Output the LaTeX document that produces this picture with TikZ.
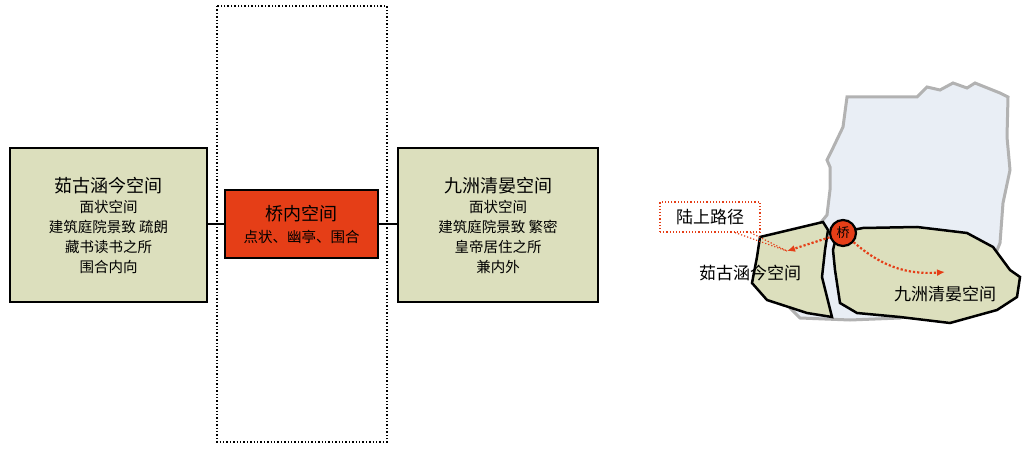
\documentclass[tikz,border=0pt]{standalone}
\usepackage{fontspec}
\newfontfamily\cjk{Noto Sans CJK SC}
\definecolor{land}{HTML}{DCDFBD}
\definecolor{rd}{HTML}{E53E17}
\definecolor{water}{HTML}{E9EEF5}
\begin{document}
\begin{tikzpicture}[x=1pt,y=-1pt,font=\cjk,
  box/.style={draw,line width=2pt,fill=land,align=center,inner sep=0pt},
  arr/.style={rd,line width=2.2pt,dotted,-{Latex[length=8pt,width=7pt]}}]
\usetikzlibrary{arrows.meta}
\useasboundingbox (0,0) rectangle (1031,449);
\draw[dotted,line width=1.4pt] (217,6) rectangle (387,442);
\node[box,minimum width=197pt,minimum height=154pt,font=\cjk\fontsize{14.5}{20}\selectfont] (a) at (108.5,225) {{\fontsize{18}{24}\selectfont 茹古涵今空间}\\面状空间\\建筑庭院景致 疏朗\\藏书读书之所\\围合内向};
\node[box,fill=rd,minimum width=153pt,minimum height=68pt,font=\cjk\fontsize{14.5}{20}\selectfont] (b) at (301.5,224) {{\fontsize{18}{24}\selectfont 桥内空间}\\[2pt]点状、幽亭、围合};
\node[box,minimum width=200pt,minimum height=154pt,font=\cjk\fontsize{14.5}{20}\selectfont] (c) at (498,225) {{\fontsize{18}{24}\selectfont 九洲清晏空间}\\面状空间\\建筑庭院景致 繁密\\皇帝居住之所\\兼内外};
\draw[line width=2pt] (a.east|-b.west) -- (b.west) (b.east) -- (c.west|-b.east);
% map
\draw[gray!60,line width=3pt,fill=water] (847,97)--(917,97)--(927,87)--(940,90)--(953,83)--(967,88)--(975,83)--(1000,93)--(1008,97)--(1007,137)--(1010,170)--(1003,203)--(1000,243)--(993,260)--(960,300)--(900,318)--(850,320)--(800,318)--(790,308)--(780,290)--(790,260)--(827,215)--(830,190)--(830,167)--(827,160)--(832,150)--(843,127)--cycle;
\draw[line width=2.5pt,fill=land] (760,237)--(823,222)--(828,230)--(825,250)--(822,277)--(832,317)--(807,313)--(767,300)--(752,283)--(757,257)--cycle;
\draw[line width=2.5pt,fill=land] (837,233)--(863,228)--(917,227)--(967,233)--(993,247)--(1010,270)--(1020,277)--(1017,297)--(997,310)--(950,323)--(900,317)--(857,313)--(840,303)--(835,270)--(833,250)--cycle;
\node[draw,rd,dotted,line width=1.2pt,text=black,font=\cjk\fontsize{17}{20}\selectfont,minimum width=100pt,minimum height=30pt] (lab) at (710,217) {陆上路径};
\node[circle,draw,line width=2.2pt,fill=rd,inner sep=1pt,minimum size=26pt,font=\cjk\fontsize{13}{14}\selectfont] (q) at (843,233) {桥};
\coordinate (e1) at (787,251);
\coordinate (e2) at (945,272);
\draw[arr] (q) -- (e1);
\draw[arr] (q) .. controls (880,265) and (905,275) .. (e2);
\draw[rd,dotted,line width=1.2pt] (lab.south) ++(25,0) -- (e1);
\draw[rd,dotted,line width=1.2pt] (lab.south east) ++(-10,0) -- (e1);
\node[font=\cjk\fontsize{17}{20}\selectfont] (t1) at (750,273) {茹古涵今空间};
\node[font=\cjk\fontsize{17}{20}\selectfont] (t2) at (945,294) {九洲清晏空间};
\end{tikzpicture}
\end{document}
